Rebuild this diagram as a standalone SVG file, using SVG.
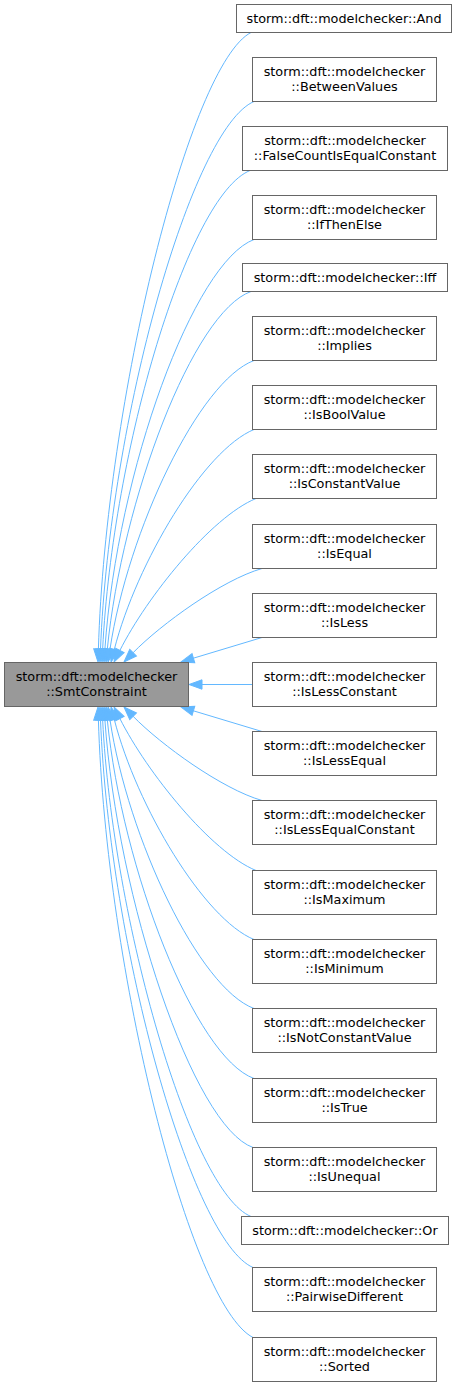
<svg xmlns="http://www.w3.org/2000/svg" width="458" height="1387" viewBox="0 0 458 1387">
<style>
.n rect{fill:#ffffff;stroke:#666666;stroke-width:1}
#smt rect{fill:#999999;stroke:#666666;stroke-width:1}
text{font-family:"DejaVu Sans",sans-serif;font-size:12.8px;fill:#000000;text-anchor:middle}
.e path{fill:none;stroke:#63b8ff;stroke-width:1;marker-end:url(#ah)}
</style>
<defs>
<marker id="ah" markerUnits="userSpaceOnUse" viewBox="-1 -6 16 12" markerWidth="16" markerHeight="12" refX="0" refY="0" orient="auto" overflow="visible">
<path d="M0,-4.7 L13,0 L0,4.7 Z" fill="#63b8ff" stroke="#63b8ff" stroke-width="1"/>
</marker>
</defs>
<rect width="458" height="1387" fill="#ffffff"/>
<g id="connectors" class="e">
<path d="M251,32.5 C190,64 105.9,399 98.4,649"/>
<path d="M254,101.5 C192,128 109.7,419.2 100.5,649"/>
<path d="M250,170.5 C188,196 112.65,449.3 102.65,649"/>
<path d="M254,239.5 C194,262 117.5,469.5 104.9,649"/>
<path d="M251,291.5 C193,312 122.2,499.9 107.3,649.1"/>
<path d="M254,360.5 C199,381 128,530.4 110,649.1"/>
<path d="M254,429.5 C204,450 136.8,562.3 114.3,649.4"/>
<path d="M256,498.5 C211,517 146.9,596.8 119.9,650.4"/>
<path d="M262,568.5 C222,580 161.1,624.1 133.1,652.7"/>
<path d="M262,637.5 L193.4,658.2"/>
<path d="M252.5,684.5 L202,684.5"/>
<path d="M262,731.5 L193.4,710.8"/>
<path d="M262,800.5 C222,789 161.1,744.9 133.1,716.3"/>
<path d="M256,870.5 C211,852 146.9,772.2 119.9,718.6"/>
<path d="M254,939.5 C204,919 136.8,806.7 114.3,719.6"/>
<path d="M254,1008.5 C199,988 128,838.6 110,719.9"/>
<path d="M254,1078.5 C195,1057 122.2,869.1 107.3,719.9"/>
<path d="M253,1147.5 C193,1126 117.5,899.5 104.9,720"/>
<path d="M251,1216.5 C191,1192 112.65,919.7 102.65,720"/>
<path d="M253,1267.5 C192,1241 109.7,949.8 100.5,720"/>
<path d="M253,1337.5 C190,1305 105.9,970 98.4,720"/>
</g>
<g id="smt"><rect x="4.5" y="662.5" width="184" height="44"/><text x="96.5" y="681">storm::dft::modelchecker</text><text x="96.5" y="696">::SmtConstraint</text></g>
<g id="and" class="n"><rect x="236.5" y="4.5" width="215" height="28"/><text x="344" y="22.8">storm::dft::modelchecker::And</text></g>
<g id="betweenvalues" class="n"><rect x="252.5" y="57.5" width="184" height="44"/><text x="344.5" y="76">storm::dft::modelchecker</text><text x="344.5" y="91">::BetweenValues</text></g>
<g id="falsecount" class="n"><rect x="242.5" y="126.5" width="205" height="44"/><text x="345" y="145">storm::dft::modelchecker</text><text x="345" y="160">::FalseCountIsEqualConstant</text></g>
<g id="ifthenelse" class="n"><rect x="252.5" y="195.5" width="184" height="44"/><text x="344.5" y="214">storm::dft::modelchecker</text><text x="344.5" y="229">::IfThenElse</text></g>
<g id="iff" class="n"><rect x="242.5" y="263.5" width="205" height="28"/><text x="345" y="281.8">storm::dft::modelchecker::Iff</text></g>
<g id="implies" class="n"><rect x="252.5" y="316.5" width="184" height="44"/><text x="344.5" y="335">storm::dft::modelchecker</text><text x="344.5" y="350">::Implies</text></g>
<g id="isboolvalue" class="n"><rect x="252.5" y="385.5" width="184" height="44"/><text x="344.5" y="404">storm::dft::modelchecker</text><text x="344.5" y="419">::IsBoolValue</text></g>
<g id="isconstantvalue" class="n"><rect x="252.5" y="454.5" width="184" height="44"/><text x="344.5" y="473">storm::dft::modelchecker</text><text x="344.5" y="488">::IsConstantValue</text></g>
<g id="isequal" class="n"><rect x="252.5" y="524.5" width="184" height="44"/><text x="344.5" y="543">storm::dft::modelchecker</text><text x="344.5" y="558">::IsEqual</text></g>
<g id="isless" class="n"><rect x="252.5" y="593.5" width="184" height="44"/><text x="344.5" y="612">storm::dft::modelchecker</text><text x="344.5" y="627">::IsLess</text></g>
<g id="islessconstant" class="n"><rect x="252.5" y="662.5" width="184" height="44"/><text x="344.5" y="681">storm::dft::modelchecker</text><text x="344.5" y="696">::IsLessConstant</text></g>
<g id="islessequal" class="n"><rect x="252.5" y="731.5" width="184" height="44"/><text x="344.5" y="750">storm::dft::modelchecker</text><text x="344.5" y="765">::IsLessEqual</text></g>
<g id="islessequalconstant" class="n"><rect x="252.5" y="800.5" width="184" height="44"/><text x="344.5" y="819">storm::dft::modelchecker</text><text x="344.5" y="834">::IsLessEqualConstant</text></g>
<g id="ismaximum" class="n"><rect x="252.5" y="870.5" width="184" height="44"/><text x="344.5" y="889">storm::dft::modelchecker</text><text x="344.5" y="904">::IsMaximum</text></g>
<g id="isminimum" class="n"><rect x="252.5" y="939.5" width="184" height="44"/><text x="344.5" y="958">storm::dft::modelchecker</text><text x="344.5" y="973">::IsMinimum</text></g>
<g id="isnotconstantvalue" class="n"><rect x="252.5" y="1008.5" width="184" height="44"/><text x="344.5" y="1027">storm::dft::modelchecker</text><text x="344.5" y="1042">::IsNotConstantValue</text></g>
<g id="istrue" class="n"><rect x="252.5" y="1078.5" width="184" height="44"/><text x="344.5" y="1097">storm::dft::modelchecker</text><text x="344.5" y="1112">::IsTrue</text></g>
<g id="isunequal" class="n"><rect x="252.5" y="1147.5" width="184" height="44"/><text x="344.5" y="1166">storm::dft::modelchecker</text><text x="344.5" y="1181">::IsUnequal</text></g>
<g id="or" class="n"><rect x="241.5" y="1216.5" width="207" height="28"/><text x="345" y="1234.8">storm::dft::modelchecker::Or</text></g>
<g id="pairwisedifferent" class="n"><rect x="252.5" y="1267.5" width="184" height="44"/><text x="344.5" y="1286">storm::dft::modelchecker</text><text x="344.5" y="1301">::PairwiseDifferent</text></g>
<g id="sorted" class="n"><rect x="252.5" y="1337.5" width="184" height="44"/><text x="344.5" y="1356">storm::dft::modelchecker</text><text x="344.5" y="1371">::Sorted</text></g>
</svg>
